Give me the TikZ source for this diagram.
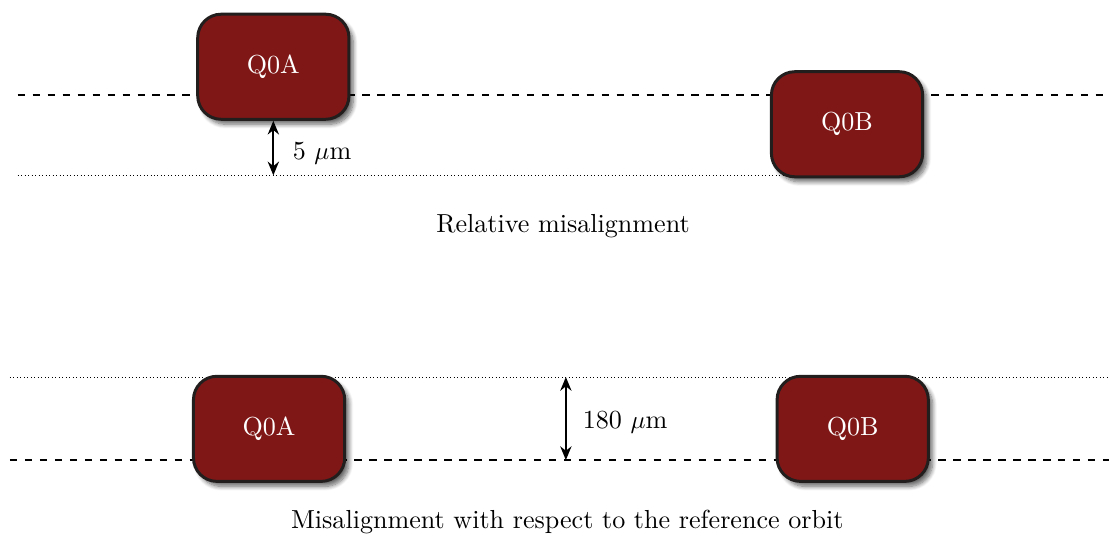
\documentclass[tikz,border=0pt]{standalone}
\usepackage{tikz}
\usetikzlibrary{arrows.meta,calc,shadows.blur}

\definecolor{quadred}{RGB}{128,23,23}
\definecolor{quadedge}{RGB}{35,30,30}

\tikzset{
  every node/.style={font=\fontsize{10.45}{12.5}\selectfont},
  quad/.style={draw=quadedge, line width=1.2pt, fill=quadred, text=white,
    rounded corners=0.33cm, minimum width=2.13cm, minimum height=1.48cm,
    blur shadow={shadow xshift=0.06cm, shadow yshift=-0.07cm, shadow blur steps=8, shadow opacity=60}},
  gap/.style={{Stealth[length=5.5pt,width=4.5pt]}-{Stealth[length=5.5pt,width=4.5pt]}, line width=0.9pt}
}

\begin{document}
\begin{tikzpicture}

    \useasboundingbox (0,0) rectangle (15.62,7.55);

    % relative misalignment
    \coordinate (ta1) at (0.25,6.21);
    \coordinate (ta2) at (15.62,6.21);
    \coordinate (tb1) at (0.25,5.08);
    \coordinate (tb2) at (11.2,5.08);
    \draw [dashed, line width=0.6pt] (ta1) -- (ta2);
    \draw [densely dotted, line width=0.4pt] (tb1) -- (tb2);

    \node[quad] at (3.85,6.61) (q0a) {Q0A};
    \node[quad] at (11.93,5.80) (q0b) {Q0B};

    \coordinate (tgap) at (q0a.south |- tb1);
    \draw [gap] (q0a.south) -- (tgap) node[pos=0.6,right=4pt]{5 $\mu$m};

    \node at (7.93,4.37) (rel) {Relative misalignment};

    % misalignment w.r.t. reference orbit
    \coordinate (ba1) at (0.14,1.07);
    \coordinate (ba2) at (15.62,1.07);
    \coordinate (bb1) at (0.14,2.24);
    \coordinate (bb2) at (15.62,2.24);
    \draw [dashed, line width=0.6pt] (ba1) -- (ba2);
    \draw [densely dotted, line width=0.4pt] (bb1) -- (bb2);

    \node[quad] at (3.79,1.51) (q0a2) {Q0A};
    \node[quad] at (12.01,1.51) (q0b2) {Q0B};

    \coordinate (bgap1) at (7.97,2.24);
    \coordinate (bgap2) at (7.97,1.07);
    \draw [gap] (bgap1) -- (bgap2) node[pos=0.55,right=3pt]{180 $\mu$m};

    \node at (7.99,0.20) (orb) {Misalignment with respect to the reference orbit};

\end{tikzpicture}
\end{document}
